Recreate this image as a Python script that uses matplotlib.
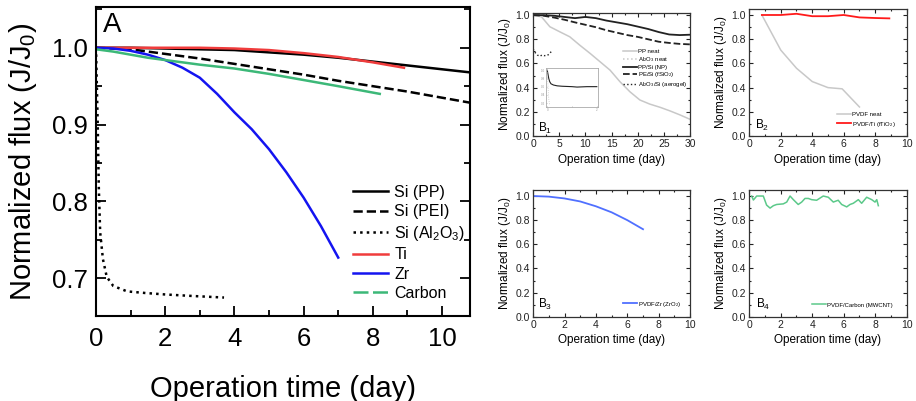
import matplotlib
matplotlib.use("Agg")
import matplotlib.pyplot as plt
from matplotlib.lines import Line2D
from matplotlib.ticker import MultipleLocator

plt.rcParams["font.family"] = ["Liberation Sans", "DejaVu Sans"]
plt.rcParams["mathtext.fontset"] = "custom"
plt.rcParams["mathtext.rm"] = "Liberation Sans"

# ---- panel A data ----
t_pp = [0, 1, 2, 3, 4, 5, 6, 7, 8, 9, 10, 11]
si_pp = [1.0, 1.0, 0.999, 0.998, 0.997, 0.994, 0.991, 0.987, 0.982, 0.977, 0.972, 0.967]
t_pei = [0, 1, 2, 3, 4, 5, 6, 7, 8, 9, 10, 11]
si_pei = [1.0, 0.998, 0.992, 0.986, 0.979, 0.972, 0.965, 0.957, 0.950, 0.943, 0.935, 0.927]
t_al = [0, 0.05, 0.08, 0.12, 0.2, 0.31, 0.5, 0.9, 1.4, 2.0, 2.8, 3.7]
si_al = [1.0, 0.9, 0.82, 0.76, 0.725, 0.702, 0.69, 0.683, 0.681, 0.679, 0.677, 0.675]
t_ti = [0, 1, 2, 3, 4, 5, 6, 7, 8, 8.9]
ti = [1.0, 1.0, 1.0, 1.0, 0.999, 0.997, 0.993, 0.988, 0.981, 0.974]
t_zr = [0, 0.5, 1, 1.5, 2, 2.5, 3, 3.5, 4, 4.5, 5, 5.5, 6, 6.5, 7]
zr = [1.0, 0.999, 0.996, 0.991, 0.984, 0.974, 0.961, 0.94, 0.916, 0.894, 0.868,
      0.838, 0.805, 0.768, 0.727]
t_c = [0, 0.5, 1, 1.5, 2, 3, 4, 5, 6, 7, 8.2]
carbon = [0.998, 0.995, 0.991, 0.987, 0.984, 0.978, 0.973, 0.966, 0.958, 0.950, 0.940]

# ---- panel B1 data ----
t_ppn = [0, 1.6, 3.2, 5.1, 7.0, 8.9, 10.9, 12.8, 14.7, 16.6, 18.5, 20.4, 22.3,
         24.3, 26.2, 28.1, 30]
pp_neat = [1.0, 0.986, 0.904, 0.862, 0.821, 0.752, 0.683, 0.614, 0.545, 0.449,
           0.366, 0.298, 0.264, 0.237, 0.207, 0.174, 0.138]
t_b1 = [0, 2, 4, 6, 8, 10, 12, 14, 16, 18, 20, 22, 24, 26, 28, 30]
pp_si = [1.0, 1.0, 0.995, 0.985, 0.975, 0.985, 0.975, 0.955, 0.94, 0.925, 0.905,
         0.885, 0.86, 0.84, 0.835, 0.838]
pe_si = [1.0, 0.995, 0.98, 0.962, 0.94, 0.92, 0.9, 0.875, 0.855, 0.835, 0.82,
         0.8, 0.78, 0.77, 0.762, 0.758]
t_aer = [0, 0.4, 0.8, 1.3, 1.7, 2.1, 2.6, 3.0, 3.3, 3.5]
aerogel = [0.72, 0.69, 0.67, 0.66, 0.67, 0.665, 0.665, 0.675, 0.69, 0.70]
# inset
t_ins = [0, 0.03, 0.06, 0.1, 0.15, 0.25, 0.4, 0.6, 0.8, 1.0, 1.2, 1.4, 1.6, 1.8, 2.0]
ins_aer = [1.0, 0.9, 0.8, 0.72, 0.67, 0.64, 0.62, 0.61, 0.605, 0.6, 0.59, 0.595,
           0.6, 0.6, 0.6]
t_ins_al = [0, 0.03, 0.06, 0.1]
ins_al = [1.0, 0.6, 0.3, 0.15]

# ---- panel B2 data ----
t_pvdf = [0.8, 2, 3, 4, 5, 5.9, 7]
pvdf_neat = [1.0, 0.71, 0.56, 0.45, 0.40, 0.39, 0.24]
t_ti2 = [0.8, 2, 3, 4, 5, 6, 7, 8, 8.9]
pvdf_ti = [1.0, 1.0, 1.01, 0.99, 0.99, 1.0, 0.98, 0.975, 0.972]

# ---- panel B3 data ----
t_zr3 = [0, 1, 2, 3, 4, 5, 6, 7]
pvdf_zr = [1.0, 0.995, 0.98, 0.955, 0.915, 0.865, 0.80, 0.725]

# ---- panel B4 data ----
t_cnt = [0.15, 0.26, 0.47, 0.89, 1.1, 1.32, 1.53, 1.74, 2.16, 2.38, 2.59, 2.8,
         3.11, 3.33, 3.54, 3.75, 3.96, 4.28, 4.7, 5.02, 5.34, 5.65, 5.87, 6.19,
         6.4, 6.61, 6.93, 7.14, 7.46, 7.78, 7.99, 8.1, 8.2]
pvdf_cnt = [1.0, 0.967, 1.0, 1.0, 0.925, 0.9, 0.92, 0.93, 0.935, 0.95, 1.0, 0.97,
            0.93, 0.95, 0.98, 0.98, 0.97, 0.965, 1.0, 0.99, 0.95, 0.965, 0.93,
            0.91, 0.93, 0.94, 0.97, 0.94, 0.99, 0.97, 0.95, 0.97, 0.92]

RED = "#f03c3c"
BLUE = "#1414f0"
GREEN = "#3cb878"
GRAY = "#c8c8c8"

fig = plt.figure(figsize=(9.16, 4.01), dpi=100)

# -----------------------------
# Panel A
# -----------------------------
ax = fig.add_axes([0.1048, 0.212, 0.408, 0.7705])
ax.plot(t_pp, si_pp, color="black", lw=1.8)
ax.plot(t_pei, si_pei, color="black", lw=1.8, ls="--")
ax.plot(t_al, si_al, color="black", lw=1.8, ls=":")
ax.plot(t_ti, ti, color=RED, lw=1.8)
ax.plot(t_zr, zr, color=BLUE, lw=1.8)
ax.plot(t_c, carbon, color=GREEN, lw=1.8)
ax.set_xlim(0, 10.8)
ax.set_ylim(0.651, 1.053)
ax.xaxis.set_major_locator(MultipleLocator(2))
ax.xaxis.set_minor_locator(MultipleLocator(1))
ax.yaxis.set_major_locator(MultipleLocator(0.1))
ax.yaxis.set_minor_locator(MultipleLocator(0.05))
ax.tick_params(which="both", direction="in", top=False, right=True, width=1.3,
               labelsize=18.5)
ax.tick_params(axis="x", which="both", pad=8)
ax.tick_params(axis="y", which="both", pad=6)
ax.tick_params(which="major", length=7)
ax.tick_params(which="minor", length=4)
for s in ax.spines.values():
    s.set_linewidth(1.5)
ax.set_xlabel("Operation time (day)", fontsize=21, labelpad=17)
ax.set_ylabel(r"Normalized flux (J/J$_\mathregular{0}$)", fontsize=21, labelpad=9)
ax.text(0.019, 0.985, "A", transform=ax.transAxes, fontsize=20, va="top")

handles = [
    Line2D([], [], color="black", lw=1.8),
    Line2D([], [], color="black", lw=1.8, ls="--"),
    Line2D([], [], color="black", lw=1.8, ls=":"),
    Line2D([], [], color=RED, lw=1.8),
    Line2D([], [], color=BLUE, lw=1.8),
    Line2D([], [], color=GREEN, lw=1.8, dashes=(6, 1.8)),
]
labels = ["Si (PP)", "Si (PEI)", r"Si (Al$_\mathregular{2}$O$_\mathregular{3}$)",
          "Ti", "Zr", "Carbon"]
ax.legend(handles, labels, loc="upper left", bbox_to_anchor=(0.687, 0.425),
          frameon=False, fontsize=11.5, borderpad=0, borderaxespad=0,
          handlelength=2.2, handletextpad=0.4, labelspacing=0.28)


def style_b(a, xmax, xmajor, ytop):
    a.set_xlim(0, xmax)
    a.set_ylim(0, ytop)
    a.xaxis.set_major_locator(MultipleLocator(xmajor))
    a.xaxis.set_minor_locator(MultipleLocator(xmajor / 2))
    a.yaxis.set_major_locator(MultipleLocator(0.2))
    a.yaxis.set_minor_locator(MultipleLocator(0.1))
    a.tick_params(which="both", direction="in", top=True, right=True,
                  labelsize=7.5, width=0.8, colors="#222222", pad=2.5)
    a.tick_params(which="major", length=3)
    a.tick_params(which="minor", length=1.6)
    for s in a.spines.values():
        s.set_linewidth(0.9)
        s.set_color("#333333")
    a.set_xlabel("Operation time (day)", fontsize=8.5, labelpad=3)
    a.set_ylabel(r"Normalized flux (J/J$_\mathregular{0}$)", fontsize=8.5,
                 labelpad=1.5)


leg_kw = dict(frameon=False, fontsize=4.3, borderpad=0, borderaxespad=0,
              handlelength=2.3, handletextpad=0.2)

# -----------------------------
# Panel B1
# -----------------------------
b1 = fig.add_axes([0.582, 0.6608, 0.1714, 0.3075])
b1.plot(t_ppn, pp_neat, color=GRAY, lw=1.1, label="PP neat")
b1.plot([], [], color=GRAY, lw=1.1, ls=":", label=r"Al$_\mathregular{2}$O$_\mathregular{3}$ neat")
b1.plot(t_b1, pp_si, color="#222222", lw=1.3, label="PP/Si (NP)")
b1.plot(t_b1, pe_si, color="#222222", lw=1.3, ls="--",
        label=r"PE/Si (fSiO$_\mathregular{2}$)")
b1.plot(t_aer, aerogel, color="#222222", lw=1.0, ls=":",
        label=r"Al$_\mathregular{2}$O$_\mathregular{3}$/Si (aerogel)")
style_b(b1, 30, 5, 1.02)
b1.legend(loc="upper left", bbox_to_anchor=(0.573, 0.705), labelspacing=0.12,
          **leg_kw)
b1.text(0.03, 0.035, r"B$_\mathregular{1}$", transform=b1.transAxes, fontsize=8.5,
        va="baseline")

ins = fig.add_axes([0.5961, 0.7332, 0.0568, 0.0973])
ins.plot(t_ins, ins_aer, color="#222222", lw=0.8)
ins.plot(t_ins_al, ins_al, color=GRAY, lw=0.6, ls=":")
ins.set_xlim(-0.05, 2.05)
ins.set_ylim(0.104, 1.056)
ins.set_xticks([0, 1, 2])
ins.set_xticklabels(["0", "", "2"])
ins.set_yticks([0.2, 0.4, 0.6, 0.8, 1.0])
ins.tick_params(direction="in", labelsize=2.2, length=1, width=0.4, pad=0.8,
                colors="#999999")
for s in ins.spines.values():
    s.set_linewidth(0.6)
    s.set_color("#aaaaaa")

# -----------------------------
# Panel B2
# -----------------------------
b2 = fig.add_axes([0.818, 0.6608, 0.1718, 0.316])
b2.plot(t_pvdf, pvdf_neat, color=GRAY, lw=1.1, label="PVDF neat")
b2.plot(t_ti2, pvdf_ti, color="#ff1a1a", lw=1.3,
        label=r"PVDF/Ti (fTiO$_\mathregular{2}$)")
style_b(b2, 10, 2, 1.047)
b2.legend(loc="upper left", bbox_to_anchor=(0.557, 0.19), labelspacing=0.4,
          **leg_kw)
b2.text(0.036, 0.053, r"B$_\mathregular{2}$", transform=b2.transAxes, fontsize=8.5,
        va="baseline")

# -----------------------------
# Panel B3
# -----------------------------
b3 = fig.add_axes([0.582, 0.2102, 0.1714, 0.316])
b3.plot(t_zr3, pvdf_zr, color="#5070ff", lw=1.3,
        label=r"PVDF/Zr (ZrO$_\mathregular{2}$)")
style_b(b3, 10, 2, 1.05)
b3.legend(loc="center left", bbox_to_anchor=(0.573, 0.1), **leg_kw)
b3.text(0.034, 0.066, r"B$_\mathregular{3}$", transform=b3.transAxes, fontsize=8.5,
        va="baseline")

# -----------------------------
# Panel B4
# -----------------------------
b4 = fig.add_axes([0.818, 0.2102, 0.1718, 0.316])
b4.plot(t_cnt, pvdf_cnt, color="#5cc98a", lw=1.1, label="PVDF/Carbon (MWCNT)")
style_b(b4, 10, 2, 1.05)
b4.legend(loc="center left", bbox_to_anchor=(0.398, 0.093), **leg_kw)
b4.text(0.042, 0.066, r"B$_\mathregular{4}$", transform=b4.transAxes, fontsize=8.5,
        va="baseline")

fig.savefig("out.png", dpi=100)
